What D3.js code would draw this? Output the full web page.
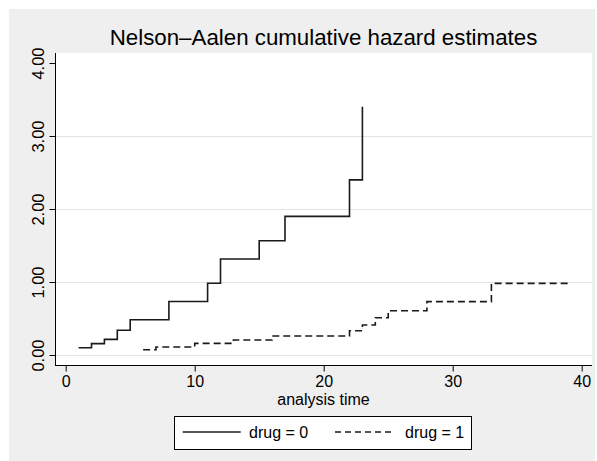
<!DOCTYPE html>
<html><head><meta charset="utf-8">
<script src="https://cdn.jsdelivr.net/npm/d3@7"></script>
<style>
body{margin:0;background:#fff}
svg{display:block}
text{font-family:"Liberation Sans",Arial,Helvetica,sans-serif;fill:#000}
</style>
</head><body>
<svg id="chart" width="597" height="461"></svg>
<script>
// ---- data ----
const titleText = "Nelson–Aalen cumulative hazard estimates";
const xTitle = "analysis time";
const xTickValues = [0, 10, 20, 30, 40];
const yTickValues = [0, 1, 2, 3, 4];
const yGridValues = [0, 1, 2, 3];
const seriesNames = ["drug = 0", "drug = 1"];
const time0 = [1, 2, 3, 4, 5, 8, 11, 12, 15, 17, 22, 23];
const hazard0 = [0.1000, 0.1556, 0.2144, 0.3394, 0.4823, 0.7323, 0.9823, 1.3156, 1.5656, 1.8990, 2.3990, 3.3990];
const time1 = [6, 7, 10, 13, 16, 22, 23, 24, 25, 28, 33, 39];
const hazard1 = [0.0714, 0.1099, 0.1599, 0.2054, 0.2609, 0.3323, 0.4107, 0.5107, 0.6066, 0.7316, 0.9816, 0.9816];

// ---- layout ----
const svg = d3.select("#chart");
const plot = {left: 55, right: 592, top: 53, bottom: 365};
const x = d3.scaleLinear().domain([0, 40]).range([65.7, 581.7]);
const y = d3.scaleLinear().domain([0, 4]).range([355, 63]);

// outer background
svg.append("rect").attr("x", 9).attr("y", 9).attr("width", 586).attr("height", 452).attr("fill", "#efefef");
// plot region
svg.append("rect").attr("x", plot.left).attr("y", plot.top)
  .attr("width", plot.right - plot.left).attr("height", plot.bottom - plot.top).attr("fill", "#fff");

// gridlines
svg.append("g").selectAll("line").data(yGridValues).join("line")
  .attr("x1", plot.left).attr("x2", plot.right)
  .attr("y1", d => Math.round(y(d)) + 0.5).attr("y2", d => Math.round(y(d)) + 0.5)
  .attr("stroke", "#e4e4e4").attr("stroke-width", 1);

// y axis
const yAxis = d3.axisLeft(y).tickValues(yTickValues).tickFormat(d3.format(".2f")).tickSize(6).tickPadding(0);
const gy = svg.append("g").attr("transform", `translate(${plot.left + 0.5},0)`).call(yAxis);
gy.select(".domain").remove();
gy.selectAll(".tick line").attr("stroke", "#000");
gy.selectAll(".tick text").remove();
gy.selectAll(".tick").append("text")
  .attr("transform", "translate(-11.5,0) rotate(-90)")
  .attr("text-anchor", "middle")
  .attr("font-size", 16.5)
  .text(d => d3.format(".2f")(d));
svg.append("line").attr("x1", plot.left + 0.5).attr("x2", plot.left + 0.5)
  .attr("y1", plot.top).attr("y2", plot.bottom + 0.5).attr("stroke", "#000");

// x axis
const xAxis = d3.axisBottom(x).tickValues(xTickValues).tickFormat(d3.format("d")).tickSize(6).tickPadding(3);
const gx = svg.append("g").attr("transform", `translate(0,${plot.bottom + 0.5})`).call(xAxis);
gx.select(".domain").remove();
gx.selectAll(".tick line").attr("stroke", "#000");
gx.selectAll(".tick text").attr("font-size", 16).attr("fill", "#000")
  .attr("font-family", '"Liberation Sans",Arial,sans-serif').attr("dy", null).attr("y", 21.5);
svg.append("line").attr("x1", plot.left).attr("x2", plot.right)
  .attr("y1", plot.bottom + 0.5).attr("y2", plot.bottom + 0.5).attr("stroke", "#000");

// axis title
svg.append("text").attr("x", (plot.left + plot.right) / 2).attr("y", 405)
  .attr("text-anchor", "middle").attr("font-size", 16).text(xTitle);

// title
svg.append("text").attr("x", (plot.left + plot.right) / 2).attr("y", 44.5)
  .attr("text-anchor", "middle").attr("font-size", 22.3).text(titleText);

// series
const line = d3.line().x(d => x(d[0])).y(d => y(d[1])).curve(d3.curveStepAfter);
const s0 = time0.map((t, i) => [t, hazard0[i]]);
const s1 = time1.map((t, i) => [t, hazard1[i]]);
svg.append("path").attr("d", line(s0)).attr("fill", "none")
  .attr("stroke", "#1a1a1a").attr("stroke-width", 1.6);
svg.append("path").attr("d", line(s1)).attr("fill", "none")
  .attr("stroke", "#1a1a1a").attr("stroke-width", 1.6).attr("stroke-dasharray", "7,4");

// legend
const lg = svg.append("g");
lg.append("rect").attr("x", 174.5).attr("y", 416.5).attr("width", 297).attr("height", 33)
  .attr("fill", "#fff").attr("stroke", "#000").attr("stroke-width", 1);
lg.append("line").attr("x1", 182.7).attr("x2", 240.7).attr("y1", 432).attr("y2", 432)
  .attr("stroke", "#1a1a1a").attr("stroke-width", 1.6);
lg.append("text").attr("x", 249).attr("y", 437.5).attr("font-size", 16).text(seriesNames[0]);
lg.append("line").attr("x1", 335).attr("x2", 391).attr("y1", 432).attr("y2", 432)
  .attr("stroke", "#1a1a1a").attr("stroke-width", 1.6).attr("stroke-dasharray", "6,4");
lg.append("text").attr("x", 405).attr("y", 437.5).attr("font-size", 16).text(seriesNames[1]);
</script>
</body></html>
